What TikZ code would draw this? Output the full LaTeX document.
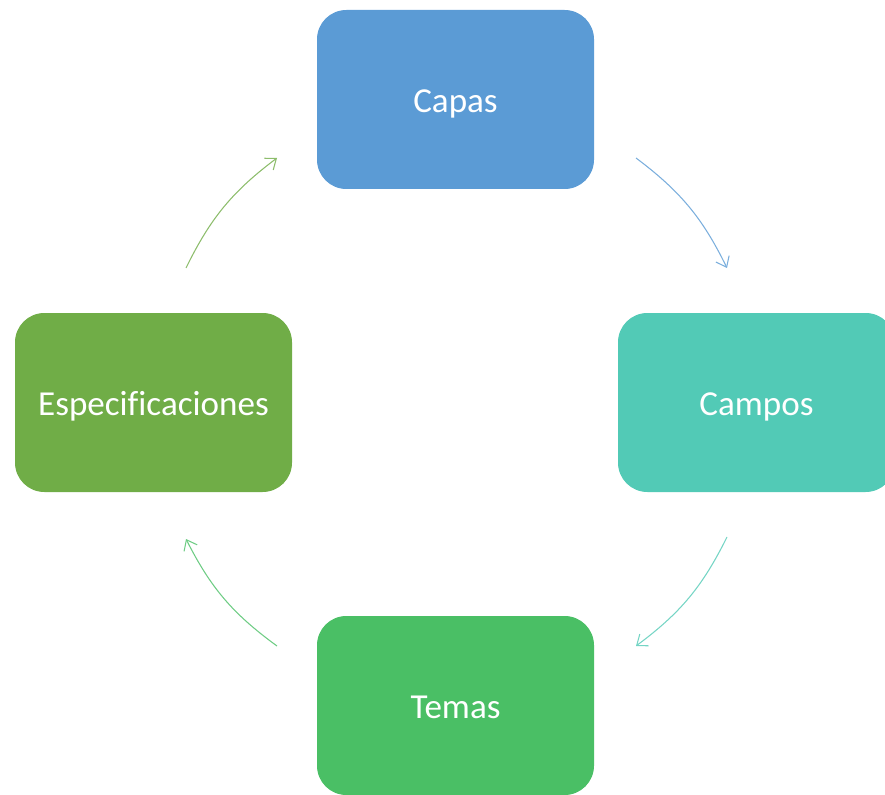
\documentclass[tikz,border=0pt]{standalone}
\usepackage{fontspec}
\setmainfont[Ligatures=NoCommon]{Carlito}
\usetikzlibrary{arrows.meta}

\definecolor{capasblue}{HTML}{5B9BD5}
\definecolor{camposteal}{HTML}{52CAB6}
\definecolor{temasgreen}{HTML}{4ABF65}
\definecolor{especgreen}{HTML}{70AD47}

\tikzset{
    stage/.style={rounded corners=22pt, minimum width=207.75pt, minimum height=134.25pt,
        text=white, font=\fontsize{26.3}{30}\selectfont, inner sep=0pt,
        text height=18.8pt, text depth=0pt},
    cycle/.style={line width=0.8pt, -{Straight Barb[length=7pt,width=11pt]}, bend left=13.5}
}

\begin{document}
\begin{tikzpicture}[x=0.75pt,y=0.75pt]
    \useasboundingbox (0,0) rectangle (885,794);
    \begin{scope}
	\clip (0,0) rectangle (885,794);
	% the four stages
	\node[stage, fill=capasblue] (capas) at (455.5,694.5) {Capas};
	\node[stage, fill=camposteal] (campos) at (756.5,391.5) {Campos};
	\node[stage, fill=temasgreen] (temas) at (455.5,88.5) {Temas};
	\node[stage, fill=especgreen] (espec) at (153.5,391.5) {Especificaciones};
    \end{scope}
    % arc ends
    \coordinate (capas-out) at (636,636);
    \coordinate (campos-in) at (727,526);
    \coordinate (campos-out) at (727,257);
    \coordinate (temas-in) at (636,148);
    \coordinate (temas-out) at (277,148);
    \coordinate (espec-in) at (186,255);
    \coordinate (espec-out) at (186,526);
    \coordinate (capas-in) at (277,636);
    % arrows
    \draw[cycle, capasblue!80] (capas-out) to (campos-in);
    \draw[cycle, camposteal!80] (campos-out) to (temas-in);
    \draw[cycle, temasgreen!80] (temas-out) to (espec-in);
    \draw[cycle, especgreen!80] (espec-out) to (capas-in);
\end{tikzpicture}
\end{document}
